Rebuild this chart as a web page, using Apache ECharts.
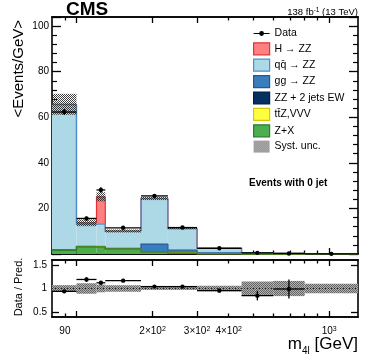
<!DOCTYPE html>
<html lang="en">
<head>
<meta charset="UTF-8">
<title>m4l, events with 0 jet</title>
<script src="https://cdn.jsdelivr.net/npm/echarts@6/dist/echarts.min.js"></script>
<style>
  html, body { margin: 0; padding: 0; background: #fff; }
  #chart { width: 374px; height: 363px; }
</style>
</head>
<body>
<div id="chart"></div>
<script>
// bin edges, m4l in GeV
var edges = [80, 100, 120, 130, 180, 230, 300, 450, 600, 800, 1300];

// predictions in events / GeV, stacked bottom to top
var zPlusX = [1.6, 3.1, 3.1, 2.1, 0.9, 0.4, 0.12, 0.03, 0.01, 0.004];
var ttzVVV = [0.02, 0.03, 0.03, 0.05, 0.08, 0.1, 0.06, 0.02, 0.01, 0.003];
var zzJets = [0.02, 0.03, 0.03, 0.04, 0.06, 0.06, 0.04, 0.02, 0.01, 0.005];
var ggZZ   = [0.2, 0.15, 0.15, 0.3, 3.3, 1.1, 0.3, 0.07, 0.03, 0.01];
var qqZZ   = [63.7, 9.8, 9.8, 7.5, 20.0, 9.5, 2.08, 0.44, 0.19, 0.05];
var hZZ    = [0.15, 0.6, 12.0, 0.1, 0.05, 0.03, 0.01, 0, 0, 0];
// relative systematic uncertainty per bin
var systRel = [0.07, 0.11, 0.08, 0.07, 0.03, 0.03, 0.06, 0.15, 0.16, 0.1];

// observed
var dataVals = [62.3, 15.6, 28.1, 11.5, 25.5, 11.6, 2.5, 0.5, 0.25, 0.07];
var dataErr  = [1.3, 0.8, 1.2, 0.4, 0.5, 0.4, 0.12, 0.05, 0.05, 0.02];
var ratioVals = [0.94, 1.19, 1.12, 1.165, 1.04, 1.04, 0.955, 0.85, 0.99, null];
var ratioErr  = [0.02, 0.05, 0.04, 0.03, 0.02, 0.03, 0.04, 0.1, 0.2, 0];

// axis ticks
var xMajor = [100, 200, 300, 1000];
var xMinor = [90, 400, 500, 600, 700, 800, 900];
var xLabelVals = [90, 200, 300, 400, 1000];
var xLabelText = ['90', '2×10{s|2}', '3×10{s|2}', '4×10{s|2}', '10{s|3}'];
var ratioTicks = [0.5, 1, 1.5];

var font = '"Liberation Sans", Arial, Helvetica, sans-serif';

function makePattern(c1, c2) {
  var cv = document.createElement('canvas');
  cv.width = 2; cv.height = 2;
  var ctx = cv.getContext('2d');
  if (c2) { ctx.fillStyle = c2; ctx.fillRect(0, 0, 2, 2); }
  ctx.fillStyle = c1;
  ctx.fillRect(0, 0, 1, 1);
  ctx.fillRect(1, 1, 1, 1);
  return { image: cv, repeat: 'repeat' };
}
var systFill = makePattern('rgba(30,30,30,0.85)');
var ratioFill = makePattern('#666666', '#b0b0b0');

var comps = [
  { name: 'Z+X', vals: zPlusX, fill: '#4cae4c', line: '#2b7d2b' },
  { name: 'tt\u0304Z,VVV', vals: ttzVVV, fill: '#ffff40', line: '#d8c800' },
  { name: 'ZZ + 2 jets EW', vals: zzJets, fill: '#06305f', line: '#001f45' },
  { name: 'gg → ZZ', vals: ggZZ, fill: '#3a7dbd', line: '#1f5a96' },
  { name: 'qq\u0304 → ZZ', vals: qqZZ, fill: '#add8e6', line: '#4a8fcf' },
  { name: 'H → ZZ', vals: hZZ, fill: '#ff8080', line: '#e83030' }
];

var total = edges.slice(0, -1).map(function () { return 0; });
var series = [];

comps.forEach(function (c, k) {
  var base = total.slice();
  var items = c.vals.map(function (v, i) {
    var prevTop = i > 0 ? base[i - 1] + c.vals[i - 1] : base[i] + v;
    return [edges[i], edges[i + 1], base[i], base[i] + v, prevTop];
  });
  c.vals.forEach(function (v, i) { total[i] += v; });
  series.push({
    type: 'custom', name: c.name, xAxisIndex: 0, yAxisIndex: 0,
    data: items, encode: { x: [0, 1], y: [2, 3] },
    renderItem: function (params, api) {
      var p0 = api.coord([api.value(0), api.value(2)]);
      var p1 = api.coord([api.value(1), api.value(3)]);
      var pp = api.coord([api.value(0), api.value(4)]);
      return { type: 'group', children: [
        { type: 'rect', z2: 1,
          shape: { x: p0[0], y: p1[1], width: p1[0] - p0[0], height: p0[1] - p1[1] },
          style: { fill: c.fill } },
        { type: 'polyline', z2: 20 - k,
          shape: { points: [[pp[0], pp[1]], [p0[0], p1[1]], [p1[0], p1[1]]] },
          style: { stroke: c.line, lineWidth: 1.2, fill: null } }
      ]};
    }
  });
});

// systematic band on top of the stack
series.push({
  type: 'custom', name: 'Syst. unc.', xAxisIndex: 0, yAxisIndex: 0,
  data: total.map(function (t, i) {
    return [edges[i], edges[i + 1], t * (1 - systRel[i]), t * (1 + systRel[i])];
  }),
  encode: { x: [0, 1], y: [2, 3] },
  renderItem: function (params, api) {
    var p0 = api.coord([api.value(0), api.value(2)]);
    var p1 = api.coord([api.value(1), api.value(3)]);
    return { type: 'rect', z2: 30,
      shape: { x: p0[0], y: p1[1], width: p1[0] - p0[0], height: p0[1] - p1[1] },
      style: { fill: systFill } };
  }
});

function pointsRender(params, api) {
  var y = api.value(2);
  if (y == null || isNaN(y)) return null;
  var e = api.value(3);
  var xc = Math.sqrt(api.value(0) * api.value(1));
  var a = api.coord([api.value(0), y]);
  var b = api.coord([api.value(1), y]);
  var c = api.coord([xc, y]);
  var lo = api.coord([xc, y - e]);
  var hi = api.coord([xc, y + e]);
  var st = { stroke: '#000', lineWidth: 1.3 };
  return { type: 'group', children: [
    { type: 'line', z2: 40, shape: { x1: a[0], y1: a[1], x2: b[0], y2: b[1] }, style: st },
    { type: 'line', z2: 40, shape: { x1: c[0], y1: lo[1], x2: c[0], y2: hi[1] }, style: st },
    { type: 'circle', z2: 41, shape: { cx: c[0], cy: c[1], r: 2.2 }, style: { fill: '#000' } }
  ]};
}

series.push({
  type: 'custom', name: 'Data', xAxisIndex: 0, yAxisIndex: 0,
  data: dataVals.map(function (v, i) { return [edges[i], edges[i + 1], v, dataErr[i]]; }),
  encode: { x: [0, 1], y: 2 },
  renderItem: pointsRender
});

// ratio panel
series.push({
  type: 'custom', name: 'ratio band', xAxisIndex: 4, yAxisIndex: 2,
  data: systRel.map(function (r, i) { return [edges[i], edges[i + 1], 1 - r, 1 + r]; }),
  encode: { x: [0, 1], y: [2, 3] },
  renderItem: function (params, api) {
    var p0 = api.coord([api.value(0), api.value(2)]);
    var p1 = api.coord([api.value(1), api.value(3)]);
    return { type: 'rect', z2: 5,
      shape: { x: p0[0], y: p1[1], width: p1[0] - p0[0], height: p0[1] - p1[1] },
      style: { fill: ratioFill } };
  }
});
series.push({
  type: 'line', name: 'unity', xAxisIndex: 4, yAxisIndex: 2,
  data: [[edges[0], 1], [edges[edges.length - 1], 1]],
  symbol: 'none', z: 3,
  lineStyle: { color: '#222', width: 1, type: [1, 2] }
});
series.push({
  type: 'custom', name: 'ratio', xAxisIndex: 4, yAxisIndex: 2,
  data: ratioVals.map(function (v, i) { return [edges[i], edges[i + 1], v, ratioErr[i]]; }),
  encode: { x: [0, 1], y: 2 },
  renderItem: pointsRender
});

function xAxis(grid, pos, ticks, len, labels) {
  return {
    type: 'log', logBase: 10, gridIndex: grid, position: pos,
    min: edges[0], max: edges[edges.length - 1],
    axisLine: { show: true, onZero: false, lineStyle: { color: '#000', width: 1.6 } },
    axisTick: { show: true, inside: true, length: len, customValues: ticks,
      lineStyle: { color: '#000', width: 1.3 } },
    splitLine: { show: false },
    axisLabel: labels ? {
      show: true, margin: 9, customValues: xLabelVals, color: '#000',
      fontFamily: font, fontSize: 10,
      formatter: function (v) {
        var i = xLabelVals.indexOf(Math.round(v));
        return i >= 0 ? xLabelText[i] : '';
      },
      rich: { s: { fontSize: 7, verticalAlign: 'top', lineHeight: 8, color: '#000', fontFamily: font } }
    } : { show: false }
  };
}

function yMain(pos) {
  return {
    type: 'value', gridIndex: 0, position: pos, min: 0, max: 104, interval: 20,
    axisLine: { show: true, onZero: false, lineStyle: { color: '#000', width: 1.6 } },
    axisTick: { show: true, inside: true, length: 9, lineStyle: { color: '#000', width: 1.3 } },
    minorTick: { show: true, splitNumber: 5, length: 5, lineStyle: { color: '#000', width: 1.2 } },
    splitLine: { show: false },
    axisLabel: pos === 'left' ? {
      show: true, margin: 3, color: '#000', fontFamily: font, fontSize: 10,
      showMinLabel: false, showMaxLabel: false
    } : { show: false }
  };
}

function yRatio(pos) {
  return {
    type: 'value', gridIndex: 1, position: pos, min: 0.4, max: 1.6,
    axisLine: { show: true, onZero: false, lineStyle: { color: '#000', width: 1.6 } },
    axisTick: { show: true, inside: true, length: 7, customValues: ratioTicks,
      lineStyle: { color: '#000', width: 1.3 } },
    splitLine: { show: false },
    axisLabel: pos === 'left' ? {
      show: true, margin: 5, customValues: ratioTicks, color: '#000',
      fontFamily: font, fontSize: 10
    } : { show: false }
  };
}

var legendItems = [
  { name: 'Data', icon: 'path://M0,5.4h16v1.2h-16z M8,3.6a2.4,2.4 0 1 1 -0.01,0z',
    itemStyle: { color: '#000', borderWidth: 0 } },
  { name: 'H → ZZ' }, { name: 'qq\u0304 → ZZ' }, { name: 'gg → ZZ' },
  { name: 'ZZ + 2 jets EW' }, { name: 'tt\u0304Z,VVV' }, { name: 'Z+X' },
  { name: 'Syst. unc.', icon: 'rect', itemStyle: { color: systFill, borderWidth: 0 } }
];
legendItems.forEach(function (it) {
  comps.forEach(function (c) {
    if (c.name === it.name) {
      it.icon = 'rect';
      it.itemStyle = { color: c.fill, borderColor: c.line, borderWidth: 1.2 };
    }
  });
});

var chart = echarts.init(document.getElementById('chart'), null, { renderer: 'canvas' });

chart.setOption({
  animation: false,
  backgroundColor: '#fff',
  textStyle: { fontFamily: font },
  grid: [
    { left: 52, top: 17, width: 306, height: 237 },
    { left: 52, top: 260, width: 306, height: 57 }
  ],
  xAxis: [
    xAxis(0, 'bottom', xMajor, 6, false),
    xAxis(0, 'top', xMajor, 6, false),
    xAxis(0, 'bottom', xMinor, 3.5, false),
    xAxis(0, 'top', xMinor, 3.5, false),
    xAxis(1, 'bottom', xMajor, 6, true),
    xAxis(1, 'top', xMajor, 6, false),
    xAxis(1, 'bottom', xMinor, 3.5, false),
    xAxis(1, 'top', xMinor, 3.5, false)
  ],
  yAxis: [yMain('left'), yMain('right'), yRatio('left'), yRatio('right')],
  legend: {
    orient: 'vertical', left: 253, top: 28, padding: 0,
    itemWidth: 16, itemHeight: 12, itemGap: 3.2,
    selectedMode: false,
    textStyle: { fontFamily: font, fontSize: 10.5, color: '#000' },
    data: legendItems
  },
  graphic: [
    { type: 'text', left: 66, top: 0,
      style: { text: 'CMS', font: 'bold 19px ' + font, fill: '#000' } },
    { type: 'text', x: 358, y: 12,
      style: { text: '138 fb{s|-1} (13 TeV)', font: '9.5px ' + font, fill: '#000',
        align: 'right', verticalAlign: 'middle',
        rich: { s: { fontSize: 6.5, verticalAlign: 'top', lineHeight: 7, fontFamily: font } } } },
    { type: 'text', x: 249, y: 183,
      style: { text: 'Events with 0 jet', font: 'bold 10px ' + font, fill: '#000',
        align: 'left', verticalAlign: 'middle' } },
    { type: 'text', x: 19, y: 20, rotation: Math.PI / 2,
      style: { text: '<Events/GeV>', font: '15px ' + font, fill: '#000',
        align: 'right', verticalAlign: 'middle' } },
    { type: 'text', x: 19, y: 287, rotation: Math.PI / 2,
      style: { text: 'Data / Pred.', font: '11px ' + font, fill: '#000',
        align: 'center', verticalAlign: 'middle' } },
    { type: 'text', x: 358, y: 344,
      style: { text: 'm{s|4l} [GeV]', font: '17px ' + font, fill: '#000',
        align: 'right', verticalAlign: 'middle',
        rich: { s: { fontSize: 10, verticalAlign: 'bottom', lineHeight: 24, fontFamily: font } } } }
  ],
  series: series
});
</script>
</body>
</html>
